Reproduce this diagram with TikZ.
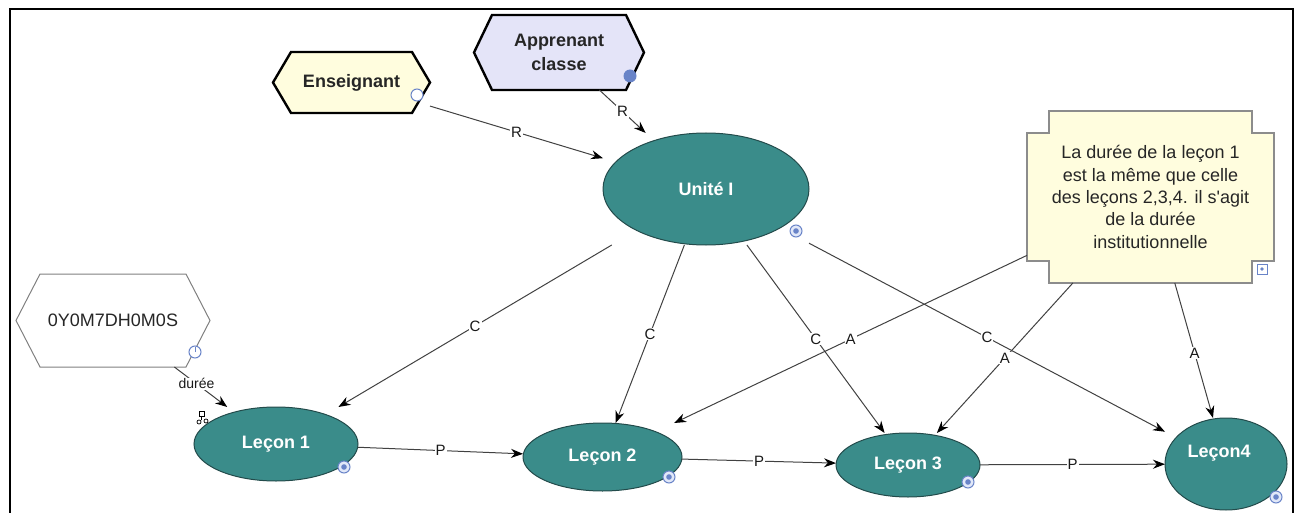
\documentclass[tikz,border=0pt]{standalone}
\usepackage{fontspec}
\setmainfont{Liberation Sans}
\usetikzlibrary{arrows.meta,backgrounds}
\definecolor{tealfill}{RGB}{58,140,138}
\definecolor{tealborder}{RGB}{35,75,75}
\definecolor{cream}{RGB}{255,253,222}
\definecolor{lavender}{RGB}{228,228,248}
\definecolor{conngray}{RGB}{65,65,65}
\definecolor{mkblue}{RGB}{105,132,200}
\definecolor{mklight}{RGB}{225,232,248}
\definecolor{notegray}{RGB}{140,140,140}
\begin{document}
\begin{tikzpicture}[x=1pt,y=-1pt,
  box/.style={rectangle, inner sep=0pt, outer sep=0pt},
  hexbold/.style={box, font=\fontsize{18}{24}\selectfont\bfseries, text=black!85, align=center},
  lesson/.style={box, font=\fontsize{18}{22}\selectfont\bfseries, text=white},
  lessonbg/.style={fill=tealfill, draw=tealborder, line width=1pt},
  hexthick/.style={draw=black, line width=2.4pt, line join=miter},
  notebg/.style={fill=cream, draw=notegray, line width=1.5pt},
  conn/.style={draw=conngray, line width=1pt, -{Stealth[length=12pt,width=9pt,color=black]}},
  lab/.style={fill=white, inner sep=1pt, font=\fontsize{15}{17}\selectfont, text=black!90},
  ring/.style={draw=mkblue, fill=mklight, line width=1pt},
]
\useasboundingbox (0,0) rectangle (1298,513);

% frame
\draw[line width=2.2pt] (10,513) -- (10,9) -- (1293,9) -- (1293,513);

% nodes
\node[hexbold, minimum width=157pt, minimum height=61pt] (ens) at (351.5,82.5) {Enseignant};
\node[hexbold, minimum width=170pt, minimum height=75pt] (app) at (559,52.5) {Apprenant\\classe};
\node[box, minimum width=194pt, minimum height=93pt, font=\fontsize{18}{22}\selectfont, text=black!85] (dur) at (113,320.5) {0Y0M7DH0M0S};
\node[box, minimum width=247pt, minimum height=172pt, font=\fontsize{18}{22.3}\selectfont, align=center, text=black!85] (note) at (1150.5,197)
  {La durée de la leçon 1\\est la même que celle\\des leçons 2,3,4. il s\textquotesingle agit\\de la durée\\institutionnelle};

\node[lesson, minimum width=206pt, minimum height=112pt] (uni) at (706,189) {Unité I};
\node[lesson, minimum width=164pt, minimum height=74pt] (l1) at (276,444) {Leçon 1};
\node[lesson, minimum width=159pt, minimum height=68pt] (l2) at (602.5,457) {Leçon 2};
\node[lesson, minimum width=144pt, minimum height=64pt] (l3) at (908,465) {Leçon 3};
\node[lesson, minimum width=122pt, minimum height=92pt,
  label={[lesson, xshift=-7pt, yshift=11pt]center:Leçon4}] (l4) at (1226,464) {};

% shapes behind the nodes
\begin{scope}[on background layer]
\draw[hexthick, fill=cream] ([xshift=18pt]ens.north west) -- ([xshift=-18pt]ens.north east) -- (ens.east)
  -- ([xshift=-18pt]ens.south east) -- ([xshift=18pt]ens.south west) -- (ens.west) -- cycle;
\draw[hexthick, fill=lavender] ([xshift=18pt]app.north west) -- ([xshift=-18pt]app.north east) -- (app.east)
  -- ([xshift=-18pt]app.south east) -- ([xshift=18pt]app.south west) -- (app.west) -- cycle;
\draw[draw=gray, line width=1pt, fill=white] ([xshift=24pt]dur.north west) -- ([xshift=-24pt]dur.north east) -- (dur.east)
  -- ([xshift=-24pt]dur.south east) -- ([xshift=24pt]dur.south west) -- (dur.west) -- cycle;
\draw[notebg] ([xshift=22pt]note.north west) -- ([xshift=-22pt]note.north east)
  -- ([xshift=-22pt,yshift=-22pt]note.north east) -- ([yshift=-22pt]note.north east)
  -- ([yshift=22pt]note.south east) -- ([xshift=-22pt,yshift=22pt]note.south east)
  -- ([xshift=-22pt]note.south east) -- ([xshift=22pt]note.south west)
  -- ([xshift=22pt,yshift=22pt]note.south west) -- ([yshift=22pt]note.south west)
  -- ([yshift=-22pt]note.north west) -- ([xshift=22pt,yshift=-22pt]note.north west) -- cycle;
\draw[lessonbg] (uni.center) ellipse [x radius=103pt, y radius=56pt];
\draw[lessonbg] (l1.center) ellipse [x radius=82pt, y radius=37pt];
\draw[lessonbg] (l2.center) ellipse [x radius=79.5pt, y radius=34pt];
\draw[lessonbg] (l3.center) ellipse [x radius=72pt, y radius=32pt];
\draw[lessonbg] (l4.center) ellipse [x radius=61pt, y radius=46pt];
\end{scope}

% connectors
\draw[conn] (ens) -- node[lab]{R} (uni);
\draw[conn] (app) -- node[lab]{R} (uni);
\draw[conn] (uni) -- node[lab]{C} (l1);
\draw[conn] (uni) -- node[lab]{C} (l2);
\draw[conn] (uni) -- node[lab]{C} (l3);
\draw[conn] (uni) -- node[lab]{C} (l4);
\draw[conn] (note) -- node[lab]{A} (l2);
\draw[conn] (note) -- node[lab]{A} (l3);
\draw[conn] (note) -- node[lab, pos=0.52]{A} (l4);
\draw[conn] (l1) -- node[lab]{P} (l2);
\draw[conn] (l2) -- node[lab]{P} (l3);
\draw[conn] (l3) -- node[lab]{P} (l4);
\draw[conn] (dur) -- node[lab, pos=0.42, font=\fontsize{14}{16}\selectfont]{durée} (l1);

% markers
\draw[draw=mkblue, fill=white, line width=1pt] (417,95) circle [radius=6pt];
\fill[mkblue] (630,76) circle [radius=6.5pt];
\draw[draw=mkblue, fill=white, line width=1pt] (195,352) circle [radius=6pt];
\draw[draw=mkblue, line width=0.8pt] (195,352) -- (195,347);
\foreach \p in {(796,231),(344,467),(669,477),(968,482),(1276,497)}{
  \draw[ring] \p circle [radius=6pt];
  \fill[mkblue] \p circle [radius=2.8pt];
}
\draw[draw=mkblue, fill=white, line width=1pt] (1257,264) rectangle (1267,274);
\fill[mkblue] (1262,269) circle [radius=1.8pt];
% small icon near durée arrow
\draw[line width=0.7pt, fill=white] (199,411) rectangle (204,416);
\draw[line width=0.7pt] (201.5,416) -- (201.5,420) (199,422) circle [radius=2pt] (206,421) circle [radius=2pt];
\end{tikzpicture}
\end{document}
